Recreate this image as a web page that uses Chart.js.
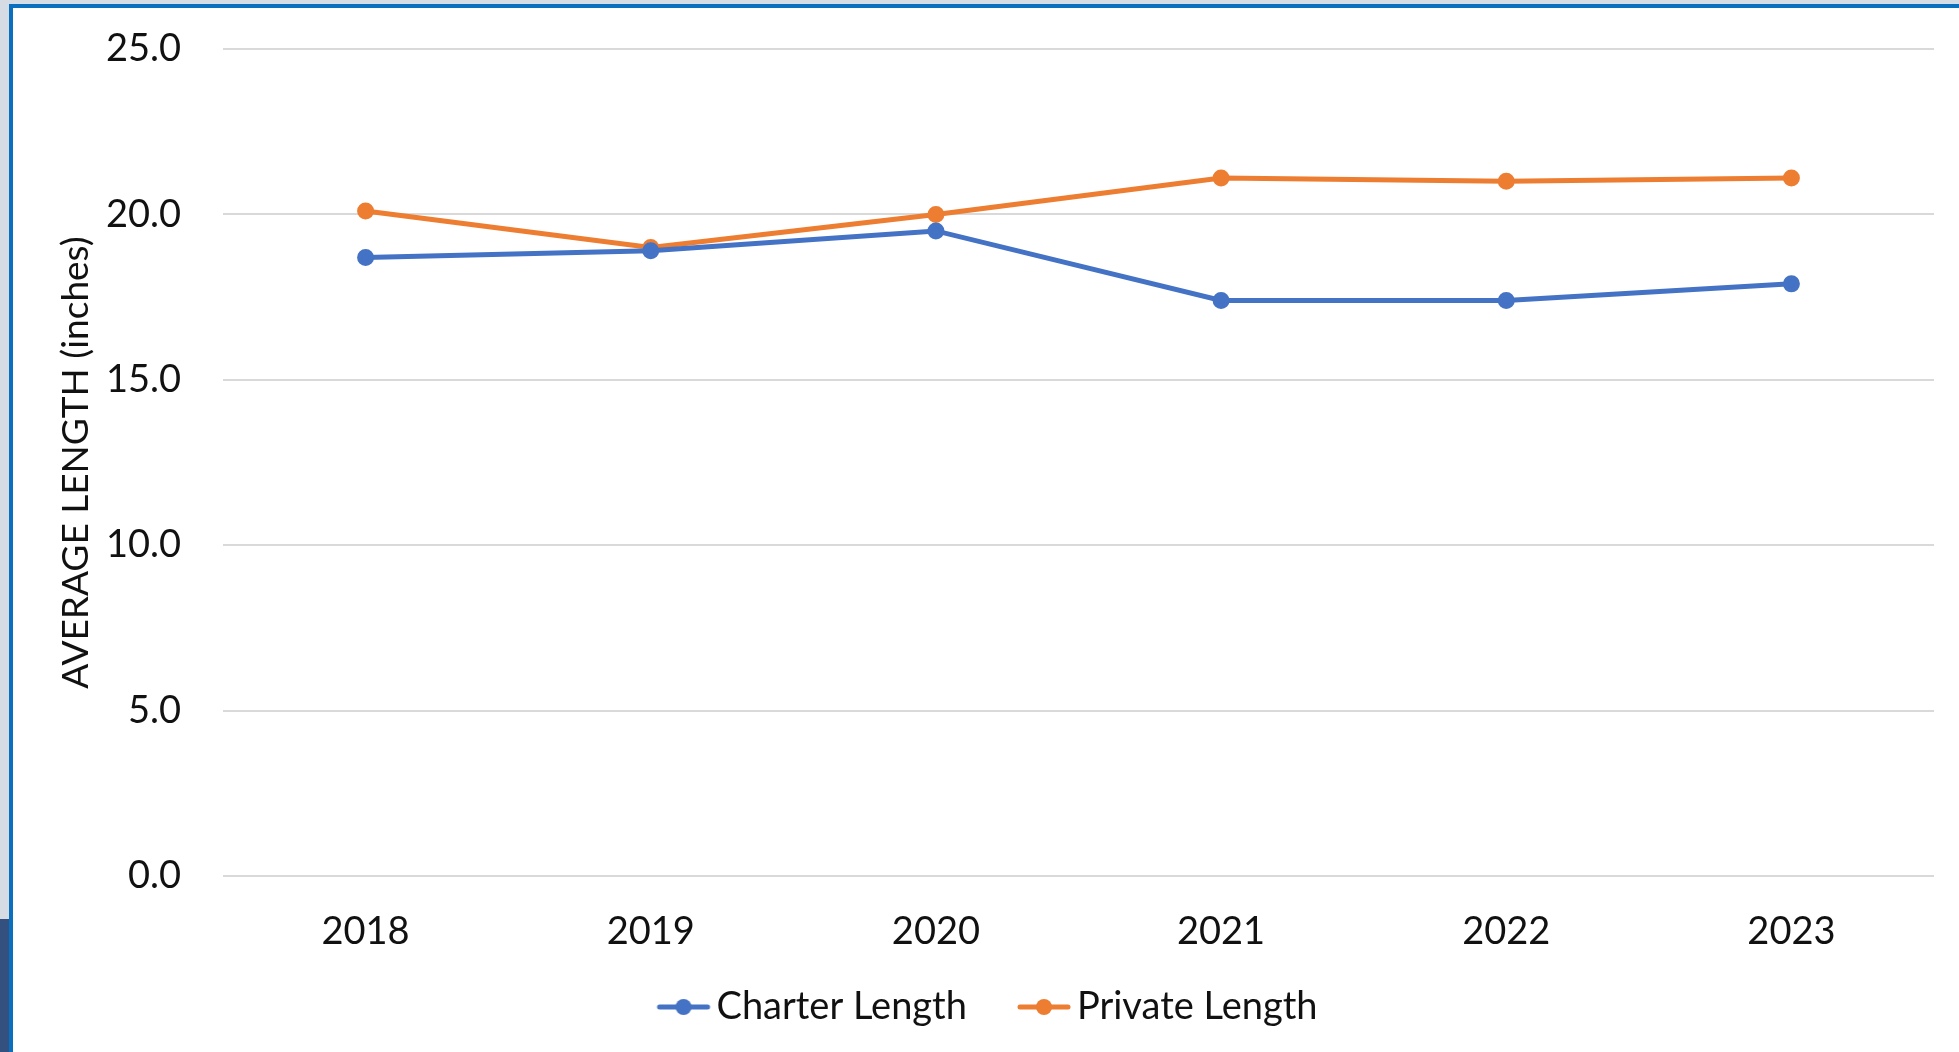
<!DOCTYPE html>
<html>
<head>
<meta charset="utf-8">
<script src="https://cdn.jsdelivr.net/npm/chart.js@4"></script>
<style>
  html, body { margin: 0; padding: 0; }
  body { width: 1959px; height: 1052px; background: #d5dce4; position: relative; overflow: hidden; }
  .frame { position: absolute; left: 9px; top: 4px; right: 0; bottom: 0; background: #fff;
           border-left: 4px solid #0b6fc0; border-top: 4px solid #0b6fc0; }
  .tab { position: absolute; left: 0; top: 919px; width: 9px; bottom: 0; background: #34507f; }
  .wrap { position: absolute; left: 0; top: 0; width: 1959px; height: 1052px; }
</style>
</head>
<body>
<div class="tab"></div>
<div class="frame"></div>
<div class="wrap"><canvas id="lengthChart"></canvas></div>
<script>
// values
const years = ["2018", "2019", "2020", "2021", "2022", "2023"];
const charterLength = [18.7, 18.9, 19.5, 17.4, 17.4, 17.9];
const privateLength = [20.1, 19.0, 20.0, 21.1, 21.0, 21.1];

const blue = "#4472c4";
const orange = "#ed7d31";
const fontFamily = "Lato, 'Open Sans', sans-serif";
const legendBox = 71;

// excel style legend marker: short line with a dot, sitting close to its text
function legendMarker(color) {
    const c = document.createElement('canvas');
    c.width = legendBox + 28;
    c.height = 18;
    const g = c.getContext('2d');
    const x1 = c.width - 54, x2 = c.width - 2;
    g.strokeStyle = color;
    g.lineWidth = 5;
    g.lineCap = 'round';
    g.beginPath();
    g.moveTo(x1 + 2, 9);
    g.lineTo(x2 - 2, 9);
    g.stroke();
    g.fillStyle = color;
    g.beginPath();
    g.arc((x1 + x2) / 2, 9, 8, 0, Math.PI * 2);
    g.fill();
    return c;
}

// nudge the legend a little left/up so it sits where excel put it
const legendNudge = {
    id: 'legendNudge',
    afterLayout(chart) {
        const lg = chart.legend;
        lg.left -= 20;
        lg.right -= 20;
        lg.top -= 4;
        lg.bottom -= 4;
    }
};

const ctx = document.getElementById('lengthChart').getContext('2d');
new Chart(ctx, {
    type: 'line',
    data: {
        labels: years,
        datasets: [{
            label: "Charter Length",
            data: charterLength,
            borderColor: blue,
            backgroundColor: blue,
            borderWidth: 5,
            pointRadius: 6,
            pointHoverRadius: 6,
            pointStyle: 'circle',
            tension: 0
        }, {
            label: "Private Length",
            data: privateLength,
            borderColor: orange,
            backgroundColor: orange,
            borderWidth: 5,
            pointRadius: 6,
            pointHoverRadius: 6,
            pointStyle: 'circle',
            tension: 0
        }]
    },
    plugins: [legendNudge],
    options: {
        responsive: true,
        maintainAspectRatio: false,
        animation: false,
        layout: {
            padding: { left: 50, top: 49, right: 25, bottom: 12 }
        },
        plugins: {
            tooltip: { enabled: false },
            legend: {
                position: 'bottom',
                labels: {
                    color: '#111',
                    font: { family: fontFamily, size: 38 },
                    usePointStyle: true,
                    pointStyleWidth: legendBox,
                    padding: 20,
                    generateLabels: chart => chart.data.datasets.map((ds, i) => ({
                        text: ds.label,
                        pointStyle: legendMarker(ds.borderColor),
                        fillStyle: ds.borderColor,
                        strokeStyle: ds.borderColor,
                        lineWidth: 0,
                        hidden: false,
                        datasetIndex: i,
                        fontColor: '#111'
                    }))
                }
            }
        },
        scales: {
            y: {
                min: 0,
                max: 25,
                ticks: {
                    stepSize: 5,
                    padding: 42,
                    color: '#111',
                    font: { family: fontFamily, size: 38 },
                    callback: v => v.toFixed(1)
                },
                grid: { color: '#d9d9d9', lineWidth: 2, drawTicks: false },
                border: { display: false },
                title: {
                    display: true,
                    text: "AVERAGE LENGTH (inches)",
                    color: '#111',
                    font: { family: fontFamily, size: 37 }
                },
                afterFit: scale => {
                    scale.width = 173;
                    scale.paddingTop = 0;
                    scale.paddingBottom = 0;
                }
            },
            x: {
                offset: true,
                ticks: {
                    padding: 33,
                    color: '#111',
                    font: { family: fontFamily, size: 38 }
                },
                grid: { display: false, drawTicks: false, offset: true },
                border: { display: false },
                afterFit: scale => { scale.height = 96; }
            }
        }
    }
});
</script>
</body>
</html>
